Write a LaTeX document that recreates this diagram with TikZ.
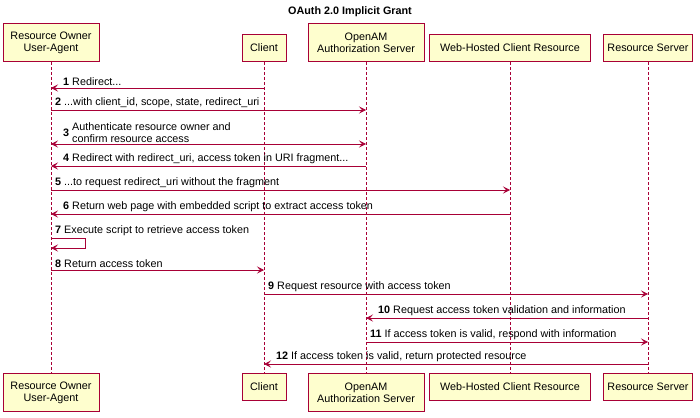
\documentclass[tikz,border=0pt]{standalone}
\usepackage{fontspec}
\setmainfont{Liberation Sans}
\usetikzlibrary{arrows.meta}
\definecolor{pr}{HTML}{A80036}
\definecolor{pf}{HTML}{FEFECE}
\begin{document}
\begin{tikzpicture}[x=1pt,y=-1pt,font=\fontsize{10.8}{12}\selectfont,
  part/.style={draw=pr,fill=pf,line width=0.9pt,align=center,inner sep=0pt,anchor=south},
  life/.style={draw=pr,dashed,dash pattern=on 3pt off 2pt,line width=0.6pt},
  msg/.style={draw=pr,line width=0.7pt,-{Stealth[length=7pt,width=7pt,inset=3pt]}},
  lab/.style={anchor=south west,inner sep=1pt,align=left}]
\useasboundingbox (0,0) rectangle (700,417);
\node[font=\fontsize{10.8}{12}\selectfont\bfseries] (title) at (350,12) {OAuth 2.0 Implicit Grant};
% participants top
\node[part,minimum width=96,minimum height=38] (ro) at (51,62) {Resource Owner\\User-Agent};
\node[part,minimum width=44,minimum height=27] (cl) at (264,62) {Client};
\node[part,minimum width=116,minimum height=38] (am) at (366,62) {OpenAM\\Authorization Server};
\node[part,minimum width=161,minimum height=27] (wh) at (510,62) {Web-Hosted Client Resource};
\node[part,minimum width=89,minimum height=27] (rs) at (648,62) {Resource Server};
% bottom
\node[part,minimum width=96,minimum height=38,anchor=north] (ro2) at (51,373) {Resource Owner\\User-Agent};
\node[part,minimum width=44,minimum height=27,anchor=north] (cl2) at (264,373) {Client};
\node[part,minimum width=116,minimum height=38,anchor=north] (am2) at (366,373) {OpenAM\\Authorization Server};
\node[part,minimum width=161,minimum height=27,anchor=north] (wh2) at (510,373) {Web-Hosted Client Resource};
\node[part,minimum width=89,minimum height=27,anchor=north] (rs2) at (648,373) {Resource Server};
\foreach \a/\b in {ro/ro2,cl/cl2,am/am2,wh/wh2,rs/rs2}
  \draw[life] (\a.south) -- (\b.north);
\newcommand{\M}[5]{% y, from x, to x, label x, text
  \coordinate (s#1) at (#2,#1); \coordinate (t#1) at (#3,#1);
  \draw[msg] (s#1) -- (t#1);
  \node[lab] at (#4,#1-1) {#5};}
\M{88}{264}{51}{62}{\textbf{1} Redirect...}
\M{110}{51}{366}{54}{\textbf{2} ...with client\_id, scope, state, redirect\_uri}
\coordinate (s3) at (51,144); \coordinate (t3) at (366,144);
\draw[msg,{Stealth[length=7pt,width=7pt,inset=3pt]}-{Stealth[length=7pt,width=7pt,inset=3pt]}] (s3) -- (t3);
\node[lab] at (62,147) {\textbf{3} \begin{tabular}{@{}l@{}}Authenticate resource owner and\\confirm resource access\end{tabular}};
\M{166}{366}{51}{62}{\textbf{4} Redirect with redirect\_uri, access token in URI fragment...}
\M{190}{51}{510}{54}{\textbf{5} ...to request redirect\_uri without the fragment}
\M{214}{510}{51}{62}{\textbf{6} Return web page with embedded script to extract access token}
\coordinate (s7) at (51,238); \coordinate (m7a) at (85,238); \coordinate (m7b) at (85,248); \coordinate (t7) at (51,248);
\draw[msg] (s7) -- (m7a) -- (m7b) -- (t7);
\node[lab] at (54,237) {\textbf{7} Execute script to retrieve access token};
\M{270}{51}{264}{54}{\textbf{8} Return access token}
\M{294}{264}{648}{267}{\textbf{9} Request resource with access token}
\M{318}{648}{366}{377}{\textbf{10} Request access token validation and information}
\M{342}{366}{648}{369}{\textbf{11} If access token is valid, respond with information}
\M{364}{648}{264}{275}{\textbf{12} If access token is valid, return protected resource}
\end{tikzpicture}
\end{document}
